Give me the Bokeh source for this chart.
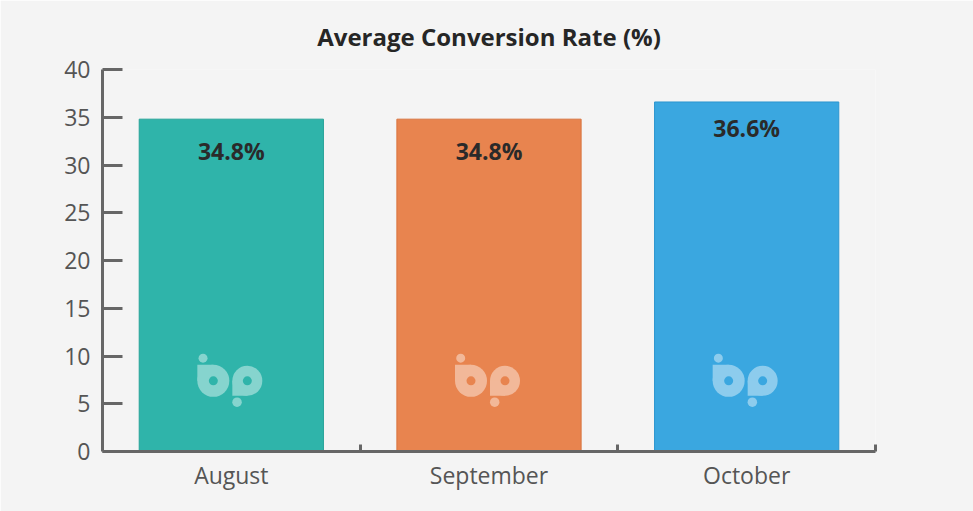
import numpy as np
from bokeh.plotting import figure
from bokeh.models import Range1d, FixedTicker
from bokeh.embed import file_html
from bokeh.resources import INLINE
from bokeh.core.properties import value

# ---- data ----
months = ["August", "September", "October"]
rates = [34.8, 34.8, 36.6]
rate_labels = ["34.8%", "34.8%", "36.6%"]
y_ticks = [0, 5, 10, 15, 20, 25, 30, 35, 40]
title_text = "Average Conversion Rate (%)"

# ---- styles ----
bar_colors = ["#2fb4aa", "#e8844f", "#3aa7e0"]
edge_colors = ["#27a398", "#d8743f", "#2c96cf"]
label_offsets = [32, 32, 26.5]   # px below bar top
BG = "#f4f4f4"
AXIS = "#666666"
FONT = "Open Sans"

n = len(months)
xs = np.arange(n) + 0.5
Y_MAX = 40

W, H = 973, 511
p = figure(width=W, height=H, x_range=Range1d(0, n), y_range=Range1d(0, Y_MAX),
           output_backend="svg", toolbar_location=None,
           min_border_left=102, min_border_right=98, min_border_top=69, min_border_bottom=60)
p.background_fill_color = BG
p.border_fill_color = BG
p.outline_line_color = None
p.grid.visible = False

p.title.text = title_text
p.title.align = "center"
p.title.text_font = FONT
p.title.text_font_size = "24px"
p.title.text_font_style = "bold"
p.title.text_color = "#262626"
p.title.standoff = 33

UX = n / 773.0      # x units per px
UY = Y_MAX / 382.0  # y units per px

# bars
p.vbar(x=xs, top=rates, width=0.715, fill_color=bar_colors, line_color=edge_colors, line_width=1)

# watermark logo (decoration), placed relative to each bar centre in pixel offsets
logo_y = 7.4

def mix(c, a=0.42):
    c = c.lstrip("#")
    r, g, b = int(c[0:2], 16), int(c[2:4], 16), int(c[4:6], 16)
    return "#%02x%02x%02x" % tuple(int(round(v * (1 - a) + 255 * a)) for v in (r, g, b))

logo_colors = [mix(c) for c in bar_colors]

def put(dx, dy, marker, size, colors):
    p.scatter(x=xs + dx * UX, y=[logo_y + dy * UY] * n, marker=marker, size=size,
              fill_color=colors, line_color=None)

put(-18, 0, "circle", 32, logo_colors)       # b bowl
put(-26, 8, "square", 16, logo_colors)       # b stem corner
put(16, 0, "circle", 30, logo_colors)        # p bowl
put(8.5, -7.5, "square", 15, logo_colors)    # p stem corner
put(-28.3, 22.7, "circle", 9, logo_colors)   # top dot
put(5.7, -21.3, "circle", 9.5, logo_colors)  # bottom dot
put(-18, 0, "circle", 9, bar_colors)         # holes
put(16, 0, "circle", 9, bar_colors)

# value labels
p.text(x=xs, y=rates, text=rate_labels, text_align="center", text_baseline="middle",
       y_offset=label_offsets, text_font=value(FONT), text_font_style="bold",
       text_font_size="23px", text_color="#2a2a2a")

# y axis
ya = p.yaxis[0]
ya.ticker = FixedTicker(ticks=y_ticks, minor_ticks=[])
ya.axis_line_color = AXIS
ya.axis_line_width = 3
ya.major_tick_line_color = AXIS
ya.major_tick_line_width = 3
ya.major_tick_in = 20
ya.major_tick_out = 0
ya.minor_tick_line_color = None
ya.major_label_standoff = 12
ya.major_label_text_font = FONT
ya.major_label_text_font_size = "23px"
ya.major_label_text_color = "#555555"

# x axis: labels at bar centres, ticks at category boundaries
xa = p.xaxis[0]
xa.ticker = FixedTicker(ticks=list(xs), minor_ticks=list(range(1, n + 1)))
xa.major_label_overrides = {float(x): m for x, m in zip(xs, months)}
xa.axis_line_color = AXIS
xa.axis_line_width = 3
xa.major_tick_line_color = None
xa.major_tick_in = 0
xa.major_tick_out = 0
xa.minor_tick_line_color = AXIS
xa.minor_tick_line_width = 3
xa.minor_tick_in = 7
xa.minor_tick_out = 0
xa.major_label_standoff = 7
xa.major_label_text_font = FONT
xa.major_label_text_font_size = "23px"
xa.major_label_text_color = "#555555"

open("out.html", "w").write(file_html(p, INLINE))
